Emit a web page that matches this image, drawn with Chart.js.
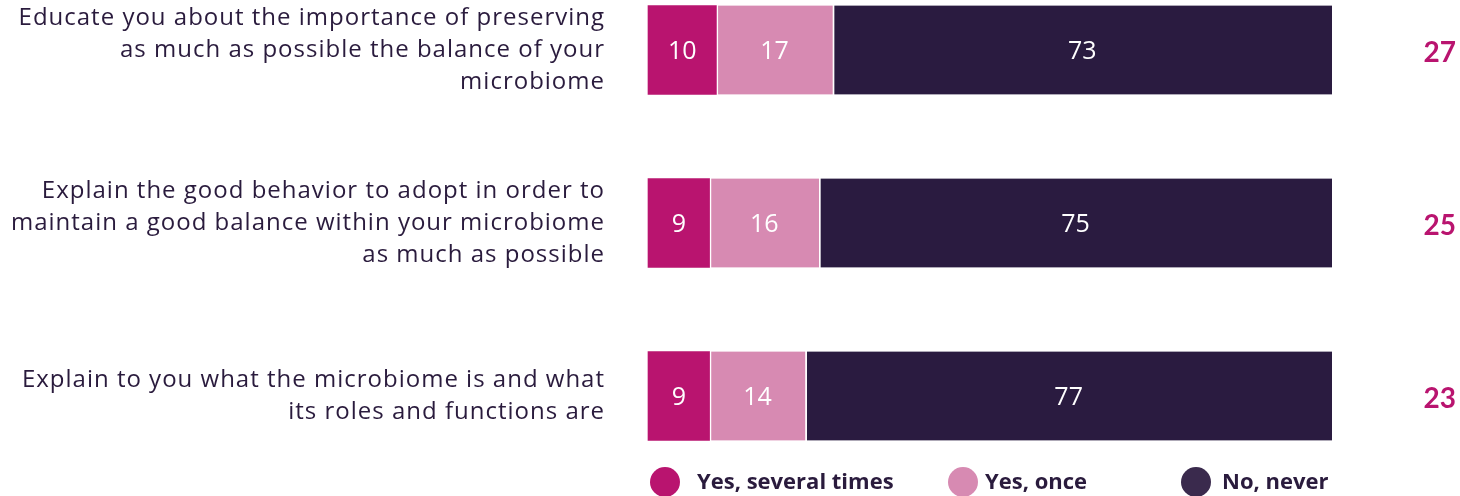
<!DOCTYPE html>
<html>
<head>
<meta charset="utf-8">
<script src="https://cdn.jsdelivr.net/npm/chart.js@4/dist/chart.umd.min.js"></script>
<style>
  html, body { margin: 0; padding: 0; background: #fff; }
  #wrap { position: relative; width: 1460px; height: 496px; }
</style>
</head>
<body>
<div id="wrap"><canvas id="chart" width="1460" height="496"></canvas></div>
<script>
// Survey statements (multi-line labels)
const statements = [
  ['Educate you about the importance of preserving', 'as much as possible the balance of your', 'microbiome'],
  ['Explain the good behavior to adopt in order to', 'maintain a good balance within your microbiome', 'as much as possible'],
  ['Explain to you what the microbiome is and what', 'its roles and functions are']
];
const seriesNames = ['Yes, several times', 'Yes, once', 'No, never'];
const severalTimes = [10, 9, 9];
const once = [17, 16, 14];
const never = [73, 75, 77];

const colors = ['#b9146f', '#d78ab2', '#2a1b40'];
const legendColors = ['#b9146f', '#d78ab2', '#3a2a4d'];
const textColor = '#2a1b3d';

// wider tracking for the statement labels, off again before the bars
const labelTracking = {
  id: 'labelTracking',
  beforeDraw(chart) { chart.ctx.letterSpacing = '1px'; },
  beforeDatasetsDraw(chart) { chart.ctx.letterSpacing = '0px'; }
};

// value labels inside each segment
const segmentLabels = {
  id: 'segmentLabels',
  afterDatasetsDraw(chart) {
    const ctx = chart.ctx;
    ctx.save();
    ctx.fillStyle = '#fff';
    ctx.font = '400 25px "Open Sans"';
    ctx.textAlign = 'center';
    ctx.textBaseline = 'middle';
    chart.data.datasets.forEach((ds, di) => {
      chart.getDatasetMeta(di).data.forEach((bar, i) => {
        const p = bar.getProps(['x', 'y', 'base'], true);
        ctx.fillText(ds.data[i], (p.x + p.base) / 2, p.y + 2);
      });
    });
    ctx.restore();
  }
};

// "yes" totals on the right
const totals = {
  id: 'totals',
  afterDraw(chart) {
    const ctx = chart.ctx;
    const y = chart.scales.y;
    ctx.save();
    ctx.fillStyle = colors[0];
    ctx.font = '700 28px Lato';
    ctx.textAlign = 'right';
    ctx.textBaseline = 'middle';
    statements.forEach((s, i) => {
      ctx.fillText(severalTimes[i] + once[i], 1456, y.getPixelForValue(i) + 3);
    });
    ctx.restore();
  }
};

// legend row along the bottom
const bottomLegend = {
  id: 'bottomLegend',
  afterDraw(chart) {
    const ctx = chart.ctx;
    const dotX = [665, 963, 1196];
    const textX = [697, 985, 1222];
    const cy = 482;
    ctx.save();
    ctx.font = '700 22px "Open Sans"';
    ctx.textBaseline = 'middle';
    ctx.textAlign = 'left';
    seriesNames.forEach((name, i) => {
      ctx.fillStyle = legendColors[i];
      ctx.beginPath();
      ctx.arc(dotX[i], cy, 15, 0, Math.PI * 2);
      ctx.fill();
      ctx.fillStyle = textColor;
      ctx.fillText(name, textX[i], cy + 1);
    });
    ctx.restore();
  }
};

const segmentBorder = (first) => first ? 0 : { left: 2, right: 0, top: 0, bottom: 0 };

new Chart(document.getElementById('chart'), {
  type: 'bar',
  data: {
    labels: statements,
    datasets: [severalTimes, once, never].map((d, i) => ({
      label: seriesNames[i],
      data: d,
      backgroundColor: colors[i],
      borderColor: '#fff',
      borderWidth: segmentBorder(i === 0),
      borderSkipped: false,
      barThickness: 89,
      clip: false
    }))
  },
  options: {
    indexAxis: 'y',
    responsive: false,
    animation: false,
    layout: { padding: { top: 50, bottom: 100, left: 0, right: 128 } },
    plugins: { legend: { display: false }, tooltip: { enabled: false } },
    scales: {
      x: { stacked: true, min: 0, max: 100, display: false },
      y: {
        stacked: true,
        offset: false,
        grid: { display: false, drawTicks: false },
        border: { display: false },
        ticks: {
          padding: 43,
          color: textColor,
          font: { family: 'Open Sans', size: 24, lineHeight: 1.33 }
        },
        afterFit(scale) {
          scale.width = 648;
          scale.paddingTop = 0;
          scale.paddingBottom = 0;
        }
      }
    }
  },
  plugins: [labelTracking, segmentLabels, totals, bottomLegend]
});
</script>
</body>
</html>
